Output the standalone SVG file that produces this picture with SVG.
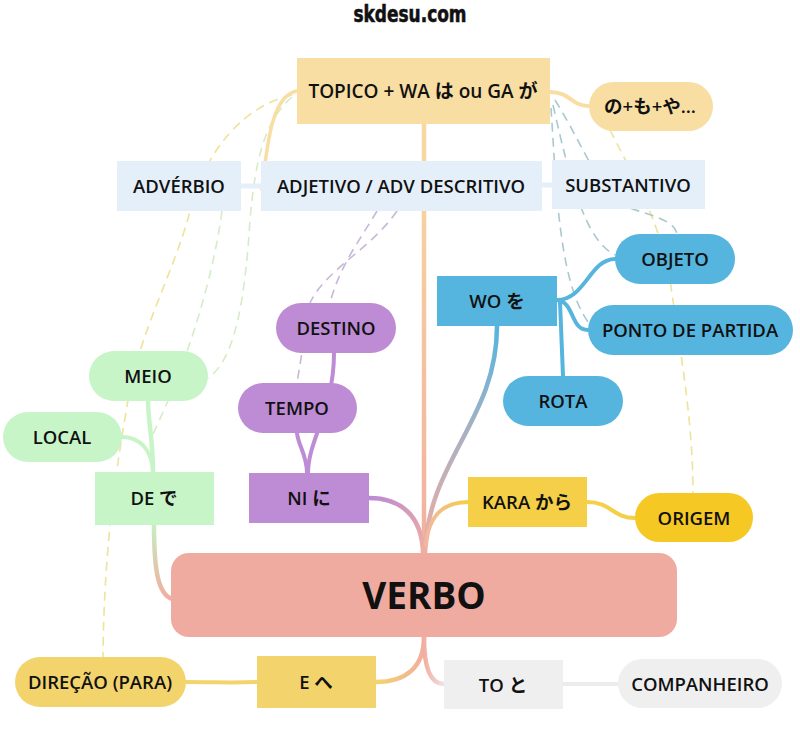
<svg xmlns="http://www.w3.org/2000/svg" width="800" height="750" viewBox="0 0 800 750">
<defs>
<style>
.t{font-family:"Open Sans","Noto Sans CJK JP",sans-serif;font-weight:600;font-size:18.5px;fill:#111;text-anchor:middle}
.c{fill:none;stroke-linecap:round}
.d{fill:none;stroke-width:1.6;stroke-dasharray:9 6}
.yel{fill:#f8dea3}
.lb{fill:#e4effa}
.bl{fill:#55b5de}
.pu{fill:#bd8cd5}
.gr{fill:#c8f5c8}
.ky{fill:#f4cf47}
.oy{fill:#f6c823}
.dy{fill:#f3d46c}
.gy{fill:#efefef}
</style>
<linearGradient id="gTrunk" gradientUnits="userSpaceOnUse" x1="0" y1="124" x2="0" y2="553"><stop offset="0" stop-color="#f8d9a0"/><stop offset="1" stop-color="#f1b0a0"/></linearGradient>
<linearGradient id="gNI" gradientUnits="userSpaceOnUse" x1="369" y1="498" x2="424" y2="553"><stop offset="0" stop-color="#bb8ad3"/><stop offset="1" stop-color="#f1aea0"/></linearGradient>
<linearGradient id="gWO" gradientUnits="userSpaceOnUse" x1="0" y1="330" x2="0" y2="553"><stop offset="0" stop-color="#55b5de"/><stop offset="0.5" stop-color="#b0b0c0"/><stop offset="1" stop-color="#f1aea0"/></linearGradient>
<linearGradient id="gKA" gradientUnits="userSpaceOnUse" x1="468" y1="0" x2="426" y2="0"><stop offset="0" stop-color="#f4cf47"/><stop offset="1" stop-color="#f1b8a0"/></linearGradient>
<linearGradient id="gDE" gradientUnits="userSpaceOnUse" x1="0" y1="525" x2="0" y2="598"><stop offset="0" stop-color="#c6efc0"/><stop offset="1" stop-color="#f1aea0"/></linearGradient>
<linearGradient id="gE" gradientUnits="userSpaceOnUse" x1="424" y1="0" x2="376" y2="0"><stop offset="0" stop-color="#f1aea0"/><stop offset="1" stop-color="#f3d46c"/></linearGradient>
<linearGradient id="gTO" gradientUnits="userSpaceOnUse" x1="424" y1="0" x2="444" y2="0"><stop offset="0" stop-color="#f1aea0"/><stop offset="1" stop-color="#efe3e3"/></linearGradient>
</defs>
<rect width="800" height="750" fill="#ffffff"/>
<text x="410" y="22" font-family="DejaVu Sans Condensed, Liberation Sans Narrow, sans-serif" font-weight="bold" font-size="23" text-anchor="middle" textLength="113" lengthAdjust="spacingAndGlyphs" fill="#111" stroke="#111" stroke-width="0.6">skdesu.com</text>

<g id="connectors">
<path class="d" stroke="#efe29a" d="M292,95 C245,105 205,150 190,211 C175,270 140,330 128,400 C118,460 104,540 103,657"/>
<path class="d" stroke="#d6ecc8" d="M292,97 C265,120 255,160 250,220 C245,300 235,360 208,378"/>
<path class="d" stroke="#d6ecc8" d="M222,211 C210,300 175,390 150,440"/>
<path class="d" stroke="#c9b8d6" d="M377,211 C360,240 340,265 330,303"/>
<path class="d" stroke="#c9b8d6" d="M397,211 C370,250 325,270 310,303 L297,383"/>
<path class="d" stroke="#efe29a" d="M610,130 C630,170 660,220 670,280 C680,350 693,420 693,493"/>
<path class="d" stroke="#a9c9cf" d="M555,100 C580,140 600,190 620,205 C650,215 675,220 677,234"/>
<path class="d" stroke="#a9c9cf" d="M553,105 C570,180 585,240 615,255"/>
<path class="d" stroke="#a9c9cf" d="M551,108 C556,180 558,280 588,322"/>
<path class="c" stroke="url(#gTrunk)" stroke-width="4.5" d="M424,124 L424,553"/>
<path class="c" stroke="#f8dea3" stroke-width="3.5" d="M297,91 C275,95 268,130 262,190"/>
<path class="c" stroke="#f8dea3" stroke-width="4" d="M550,92 C570,92 572,106 588,106"/>
<path class="c" stroke="#e4effa" stroke-width="5" d="M241,186 L261,186"/>
<path class="c" stroke="#e4effa" stroke-width="5" d="M542,185 L552,185"/>
<path class="c" stroke="url(#gNI)" stroke-width="4.5" d="M369,498 C400,498 422,515 423,553"/>
<path class="c" stroke="url(#gWO)" stroke-width="4.5" d="M497,326 C497,420 428,460 425,553"/>
<path class="c" stroke="url(#gKA)" stroke-width="4" d="M468,502 C440,502 428,520 426,545"/>
<path class="c" stroke="url(#gDE)" stroke-width="4.5" d="M154,525 C154,570 158,594 172,599"/>
<path class="c" stroke="url(#gE)" stroke-width="4.5" d="M424,637 C424,668 405,682 376,682"/>
<path class="c" stroke="url(#gTO)" stroke-width="4.5" d="M424,637 C424,668 430,684 444,684"/>
<path class="c" stroke="#55b5de" stroke-width="4" d="M557,300 C585,300 590,259 615,259"/>
<path class="c" stroke="#55b5de" stroke-width="4" d="M557,300 C575,302 570,330 588,330"/>
<path class="c" stroke="#55b5de" stroke-width="4" d="M560,302 L563,376"/>
<path class="c" stroke="#bd8cd5" stroke-width="4" d="M307,473 C307,455 298,445 297,433"/>
<path class="c" stroke="#bd8cd5" stroke-width="4" d="M308,473 C308,440 334,410 334,353"/>
<path class="c" stroke="#c8f5c8" stroke-width="4.5" d="M153,472 C153,440 148,420 148,401"/>
<path class="c" stroke="#c8f5c8" stroke-width="4" d="M122,437 C140,437 152,450 153,472"/>
<path class="c" stroke="#f4cf47" stroke-width="4" d="M587,502 C612,502 612,518 635,518"/>
<path class="c" stroke="#f3d46c" stroke-width="4" d="M257,682 C230,683 215,682 186,682"/>
<path class="c" stroke="#ececec" stroke-width="4" d="M563,684 L618,684"/>
</g>

<g id="topico"><rect class="yel" x="297" y="58" width="253" height="66"/><text class="t" x="423" y="98" style="font-size:19px">TOPICO + WA は ou GA が</text></g>
<g id="no-mo-ya"><rect class="yel" x="589" y="82" width="124" height="49" rx="24.5"/><text class="t" x="650" y="113">の+も+や…</text></g>
<g id="adverbio"><rect class="lb" x="117" y="161" width="124" height="50"/><text class="t" x="179" y="193">ADVÉRBIO</text></g>
<g id="adjetivo"><rect class="lb" x="261" y="161" width="281" height="50"/><text class="t" x="401" y="193">ADJETIVO / ADV DESCRITIVO</text></g>
<g id="substantivo"><rect class="lb" x="552" y="160" width="153" height="49"/><text class="t" x="628" y="192">SUBSTANTIVO</text></g>
<g id="objeto"><rect class="bl" x="615" y="234" width="120" height="50" rx="25"/><text class="t" x="675" y="266">OBJETO</text></g>
<g id="wo"><rect class="bl" x="437" y="276" width="120" height="50"/><text class="t" x="497" y="308">WO を</text></g>
<g id="ponto"><rect class="bl" x="588" y="305" width="205" height="50" rx="25"/><text class="t" x="690" y="337">PONTO DE PARTIDA</text></g>
<g id="rota"><rect class="bl" x="503" y="376" width="120" height="50" rx="25"/><text class="t" x="563" y="408">ROTA</text></g>
<g id="destino"><rect class="pu" x="276" y="303" width="120" height="50" rx="25"/><text class="t" x="336" y="335">DESTINO</text></g>
<g id="meio"><rect class="gr" x="89" y="351" width="119" height="50" rx="25"/><text class="t" x="148" y="383">MEIO</text></g>
<g id="tempo"><rect class="pu" x="238" y="383" width="119" height="50" rx="25"/><text class="t" x="297" y="415">TEMPO</text></g>
<g id="local"><rect class="gr" x="3" y="412" width="119" height="50" rx="25"/><text class="t" x="62" y="444">LOCAL</text></g>
<g id="de"><rect class="gr" x="95" y="472" width="119" height="53"/><text class="t" x="154" y="505">DE で</text></g>
<g id="ni"><rect class="pu" x="249" y="473" width="120" height="50"/><text class="t" x="309" y="505">NI に</text></g>
<g id="kara"><rect class="ky" x="468" y="477" width="119" height="50"/><text class="t" x="527" y="509">KARA から</text></g>
<g id="origem"><rect class="oy" x="635" y="493" width="118" height="49" rx="24.5"/><text class="t" x="694" y="525">ORIGEM</text></g>
<g id="verbo"><rect x="171" y="553" width="506" height="84" rx="18" fill="#f0aba1"/><text class="t" x="424" y="609" style="font-size:37px;font-weight:700">VERBO</text></g>
<g id="direcao"><rect class="dy" x="15" y="657" width="171" height="50" rx="25"/><text class="t" x="100" y="689">DIREÇÃO (PARA)</text></g>
<g id="e"><rect class="dy" x="257" y="656" width="119" height="52"/><text class="t" x="316" y="689">E へ</text></g>
<g id="to"><rect class="gy" x="444" y="660" width="119" height="49"/><text class="t" x="503" y="692">TO と</text></g>
<g id="companheiro"><rect class="gy" x="618" y="659" width="164" height="49" rx="24.5"/><text class="t" x="700" y="691">COMPANHEIRO</text></g>
</svg>
